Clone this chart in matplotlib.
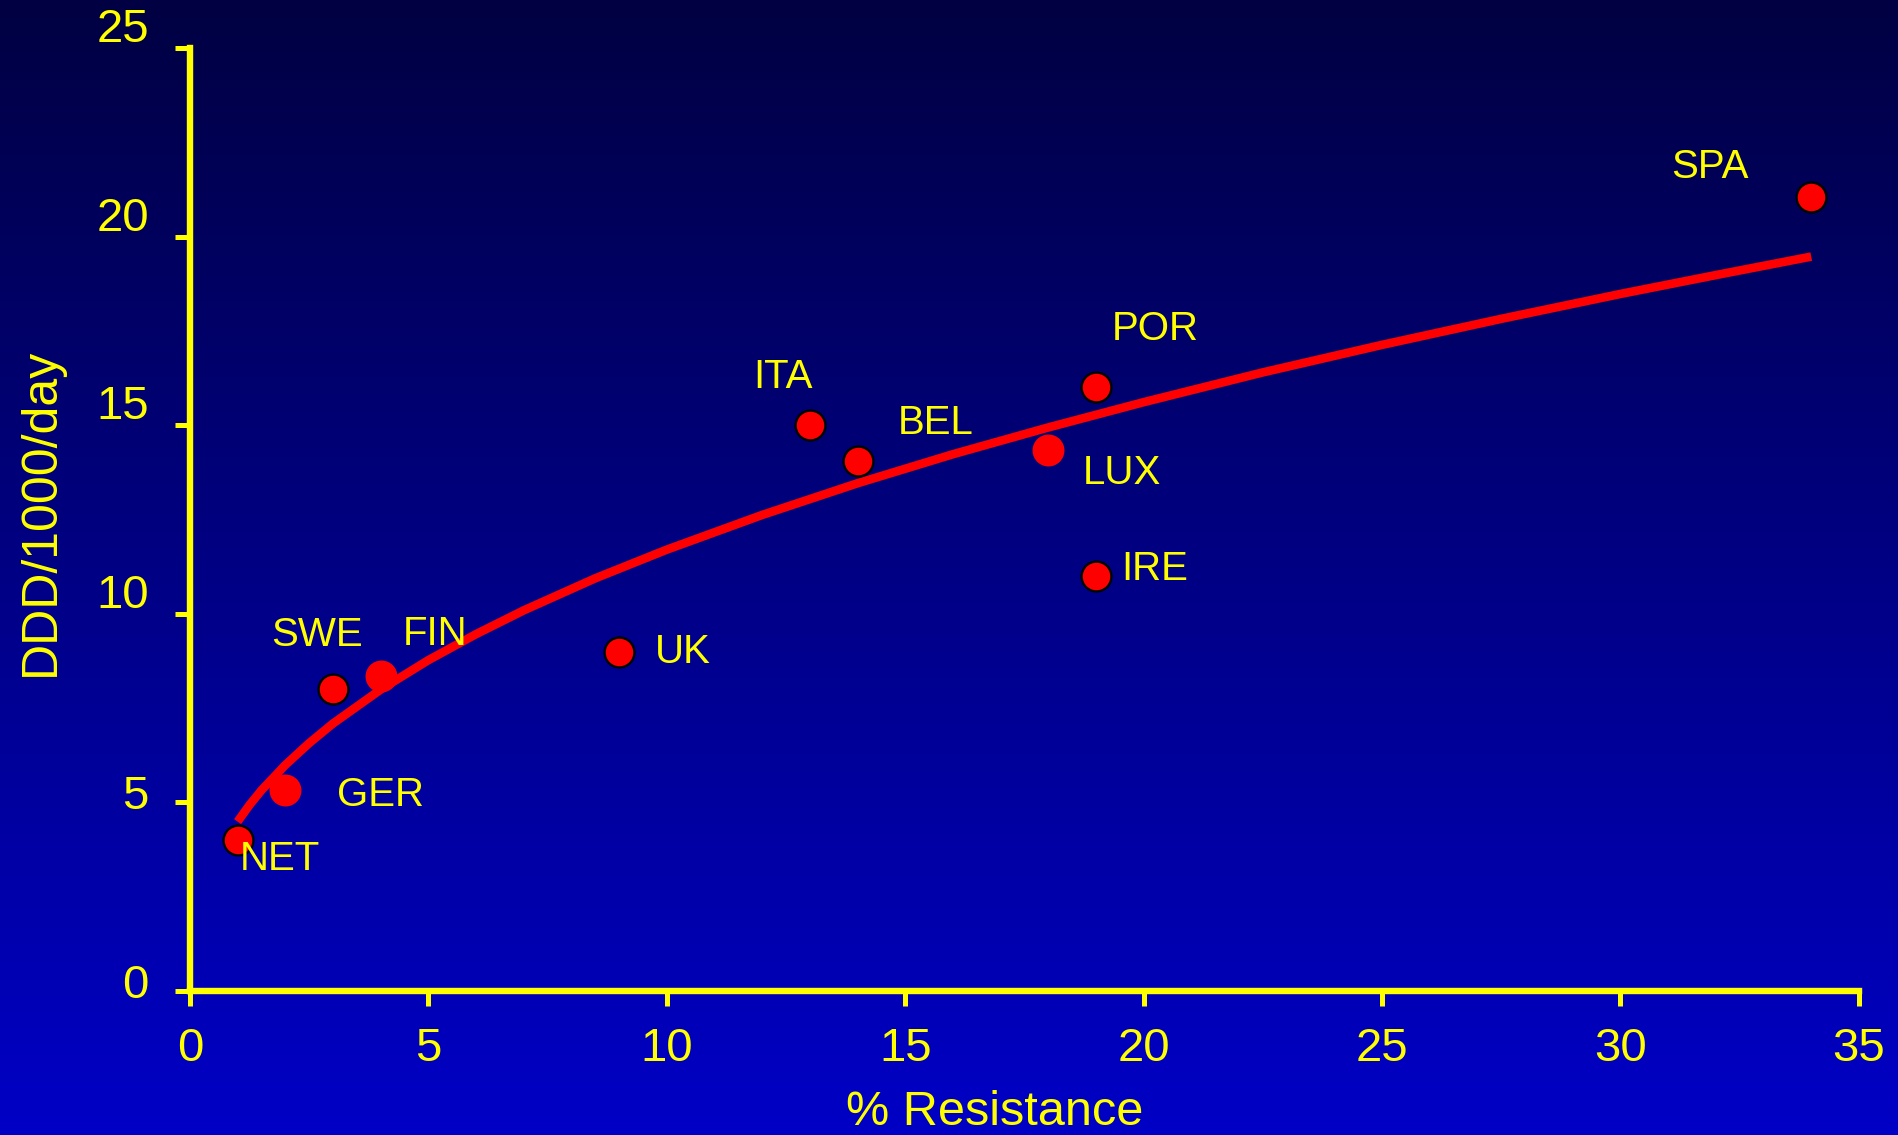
import numpy as np
import matplotlib
matplotlib.use("Agg")
import matplotlib.pyplot as plt
from matplotlib import font_manager
from matplotlib.transforms import ScaledTranslation

# ---------------- data ----------------
countries = ["NET", "GER", "SWE", "FIN", "UK", "ITA", "BEL", "LUX", "POR", "IRE", "SPA"]
resistance = [1, 2, 3, 4, 9, 13, 14, 18, 19, 19, 34]
ddd = [4.0, 5.33, 8.0, 8.35, 9.0, 15.0, 14.05, 14.35, 16.0, 11.0, 21.05]

trend_x = [1, 1.25, 1.5, 2, 2.5, 3, 4, 5, 6, 7, 8.5, 10, 12, 14, 16, 18, 20,
           22.5, 25, 27.5, 30, 32, 34]
trend_y = [4.49, 4.93, 5.32, 5.99, 6.57, 7.09, 7.99, 8.77, 9.46, 10.09, 10.94,
           11.70, 12.62, 13.46, 14.23, 14.94, 15.61, 16.40, 17.13, 17.82, 18.48,
           18.98, 19.47]

xticks = [0, 5, 10, 15, 20, 25, 30, 35]
yticks = [0, 5, 10, 15, 20, 25]
xlabel = "% Resistance"
ylabel = "DDD/1000/day"

# ---------------- style ----------------
names = {f.name for f in font_manager.fontManager.ttflist}
FONT = "Liberation Sans Narrow" if "Liberation Sans Narrow" in names else "Liberation Sans"
narrow = FONT == "Liberation Sans Narrow"
plt.rcParams["font.family"] = [FONT, "DejaVu Sans"]

YEL = "#FFFF00"
no_edge = {"GER", "FIN", "LUX"}
label_off = {"NET": (2, -19), "GER": (52, -5), "SWE": (-62, 54), "FIN": (22, 42),
             "UK": (36, 0), "ITA": (-57, 48), "BEL": (40, 38), "LUX": (34, -23),
             "POR": (16, 58), "IRE": (25, 7), "SPA": (-140, 30)}
ytick_shift = [5, 5, 18, 18, 18, 18]

fs_tick = 37 if narrow else 34
fs_lab = 32 if narrow else 29
fs_ylab = 40 if narrow else 36
fs_xlab = 40 if narrow else 35

fig = plt.figure(figsize=(18.99, 11.35), dpi=100)

# background gradient
bg = fig.add_axes([0, 0, 1, 1], zorder=-10)
grad = np.linspace(0, 1, 256).reshape(-1, 1)
top = np.array([0, 0, 66]) / 255
bot = np.array([0, 0, 198]) / 255
img = top[None, None, :] * (1 - grad[:, :, None]) + bot[None, None, :] * grad[:, :, None]
bg.imshow(img, aspect="auto", extent=[0, 1, 0, 1])
bg.set_axis_off()

ax = fig.add_axes([0.1, 0.1269, 0.8789, 0.8308])
ax.patch.set_alpha(0)
ax.set_xlim(0, 35)
ax.set_ylim(0, 25)

ax.plot(trend_x, trend_y, color="#FF0000", lw=6.2, solid_capstyle="butt", zorder=3)

for c, x, y in zip(countries, resistance, ddd):
    if c in no_edge:
        ax.plot(x, y, "o", ms=23, mfc="#FF0000", mec="none", zorder=4, clip_on=False)
    else:
        ax.plot(x, y, "o", ms=21.5, mfc="#FF0000", mec="black", mew=1.7, zorder=4, clip_on=False)
    dx, dy = label_off[c]
    ax.annotate(c, (x, y), xytext=(dx, dy), textcoords="offset pixels",
                ha="left", va="center", color=YEL, fontsize=fs_lab, zorder=5)

for s in ["top", "right"]:
    ax.spines[s].set_visible(False)
for s in ["left", "bottom"]:
    ax.spines[s].set_color(YEL)
    ax.spines[s].set_linewidth(4.6)
    ax.spines[s].set_capstyle("projecting")

ax.set_xticks(xticks)
ax.set_yticks(yticks)
ax.tick_params(axis="both", direction="out", length=11, width=3.6, color=YEL)
ax.tick_params(axis="x", labelsize=fs_tick, labelcolor=YEL, pad=15)
ax.set_yticklabels([])
for v, sh in zip(yticks, ytick_shift):
    tr = ax.get_yaxis_transform() + ScaledTranslation(-0.41, sh / 100, fig.dpi_scale_trans)
    ax.text(0, v, str(v), transform=tr, ha="right", va="center", color=YEL, fontsize=fs_tick)

fig.text(0.0215, 0.549, ylabel, rotation=90, ha="center", va="center", color=YEL, fontsize=fs_ylab)
fig.text(0.524, 0.0, xlabel, ha="center", va="bottom", color=YEL, fontsize=fs_xlab)

fig.savefig("out.png", dpi=100)
